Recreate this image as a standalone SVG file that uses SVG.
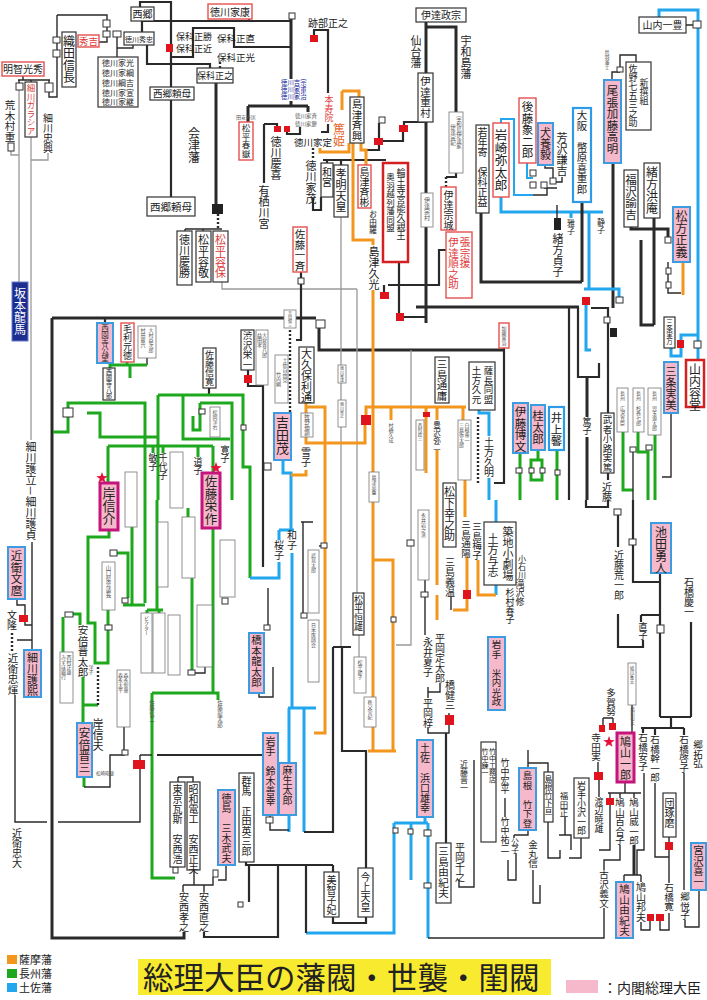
<svg xmlns="http://www.w3.org/2000/svg" width="707" height="1000" viewBox="0 0 707 1000">
<style>
text{font-family:"Noto Sans CJK JP","Noto Sans CJK SC",sans-serif;fill:#222}
.v{writing-mode:vertical-rl}
.h{text-anchor:middle}
.t{fill:#555}
.red{fill:#e03a3a}
.bx{fill:#fff;stroke:#333;stroke-width:1.2}
.rb{fill:#fff;stroke:#e65050;stroke-width:1.4}
.pk{fill:#f6b8cb;stroke:#3d9be0;stroke-width:2}
.pm{fill:#f6b8cb;stroke:#c4157a;stroke-width:3}
.bb{fill:#fff;stroke:#2e9be8;stroke-width:2.2}
.tb{fill:#fff;stroke:#777;stroke-width:0.8}
.k{fill:none;stroke:#2a2a2a;stroke-width:3}
.k2{fill:none;stroke:#2a2a2a;stroke-width:2.2}
.kt{fill:none;stroke:#2a2a2a;stroke-width:1.4}
.gy{fill:none;stroke:#9a9a9a;stroke-width:1.3}
.o{fill:none;stroke:#f2961e;stroke-width:3}
.g{fill:none;stroke:#1ea81e;stroke-width:3}
.b{fill:none;stroke:#22a6ee;stroke-width:3}
.dt{fill:none;stroke:#2a2a2a;stroke-width:2.4;stroke-dasharray:2 2}
.rs{fill:#e0141c}
.ws{fill:#fff;stroke:#333;stroke-width:1}
.bs{fill:#222}
.st{fill:#e8103a}
.wb{fill:#fff}
</style>
<defs>
<path id="star" d="M0,-6 L1.41,-1.94 L5.71,-1.85 L2.28,0.74 L3.53,4.85 L0,2.4 L-3.53,4.85 L-2.28,0.74 L-5.71,-1.85 L-1.41,-1.94Z"/>
</defs>
<rect width="707" height="1000" fill="#fff"/>

<g id="connectors">
<path class="kt" d="M57,15 H107 V20 M57,15 V97 H49 V92 M18,80 H50 M23,76 V80 M19,80 V83 M31,80 V82 M49,80 V83"/>
<path class="gy" d="M19,90 V282 M31,137 V440 M11,151 V155 H19 M48,153 V160 H31"/>
<path class="kt" d="M99,42 H107 V37 M107,27 V31 M117,37 V57 M133,45 V48 H117"/>
<path class="k2" d="M140,7 V2 H171 V87 M171,100 V197 M142,21 H291 M142,21 V32 M171,57 H193 V28 H234 V47 H291 M147,45 V64 H210 V68 M249,19 V21"/>
<path class="dt" d="M220,62 V68"/>
<path class="k" d="M291,18 V79 M291,101 V106 M248,106 H308 M248,106 V122 M308,106 V112 M216,83 V204"/>
<path class="dt" d="M218,214 V229"/>
<path class="kt" d="M185,229 H222 M185,229 V231 M203,229 V231"/>
<path class="k2" d="M264,124 H277 V126 M264,124 V183 M287,132 V134 H300 V127 M313,30 H328 V93 M328,124 V132 H321 M314,30 V35"/>
<path class="dt" d="M313,148 V160"/>
<path class="k2" d="M313,198 V210 H321 V197 M323,160 H386 M327,160 V163 M341,160 V165 M364,150 H379 V145 M379,138 V123 M383,141 H403 V132 M404,125 V122 H426"/>
<path class="o" d="M342,91 H359 V97 M342,91 V110 M349,143 V152 H320 V148 M353,143 V240 H373 V245 M361,143 V150 H366 V165"/>
<path class="k" d="M426,22 V73 M426,27 H456 V112 M426,122 V193 M426,227 V323"/>
<path class="k2" d="M456,173 V177 H446"/>
<path class="dt" d="M446,177 V187"/>
<path class="k2" d="M399,262 V313 M404,317 H426 M388,285 H439 V250 H448 V242 M384,285 V292"/>
<path class="kt" d="M686,25 H693 M612,80 V72 H620 M620,67 V55 H636 V62"/>
<path class="b" d="M659,17 V10 H698 V21 M698,28 V341 M698,348 V360"/>
<path class="k" d="M613,163 V308"/>
<path class="b" d="M501,197 V212 H603 M571,212 V218 M589,212 V289 M584,289 H619 V297 M586,305 V350 H591"/>
<path class="k" d="M582,202 V282 M481,213 V282 H582"/>
<path class="kt" d="M557,205 V218 M545,165 V168 H553 V178 M544,188 H557 M562,177 V182 H553 M547,188 V195 H533"/>
<path class="b" style="stroke-width:2" d="M501,123 V119 H514 V195 H533 M527,163 V178 H533"/>
<path class="k" d="M631,227 V229 H668 V237 M654,218 V325 M641,240 V325 H654"/>
<path class="o" d="M683,262 V295"/>
<path class="kt" d="M668,262 V293 H681"/>
<path class="b" d="M671,348 V356 H681 V335 H697"/>
<path class="kt" d="M671,413 V477 H662"/>
<path class="k" d="M52,318 H316 M319,328 V350 H504 M52,318 V938 H184 V932 M416,307 H579"/>
<path class="k2" d="M504,348 V483 H494 M578,307 V377 H599 V363 M569,307 V500 M591,308 H608 V413 M608,473 V480"/>
<path class="k" d="M587,377 V500"/>
<path class="gy" d="M222,282 V289 H357 M341,217 V647 M357,289 V593 M359,635 V657 M411,350 V645 H396"/>
<path class="k2" d="M248,370 V375 M248,383 V386 H263 V567 M301,272 V278 M301,284 V340 H296"/>
<path class="dt" d="M290,330 V413"/>
<path class="b" d="M479,410 V413 H489 V500 M496,500 V522 M496,585 V595"/>
<path class="dt" d="M478,417 V483"/>
<path class="g" d="M520,453 V500 M538,450 V460 H531 V468 M538,460 H542 V468 M531,473 V480 H542 V473 M557,450 V470 M557,475 V500 M623,432 V490 H633 M638,432 V452 H648 V500 M655,435 V500"/>
<path class="kt" d="M633,452 V500"/>
<path class="k2" d="M105,318 V323 M209,388 V395"/>
<path class="kt" d="M147,358 V365"/>
<path class="g" d="M110,368 V365 H147 M127,362 V365 M130,365 V378 M53,432 H68 V403 H145 V603 M158,395 H243 V467 H250 V578 M158,395 V500 M183,395 V439 H230 M200,403 H232 V500 M200,403 V430 H193 V416 M87,413 H100 V437 H157 M108,446 H213 M108,446 V483 M153,446 V453 M163,446 V453 M198,446 V457 M213,446 V473"/>
<path class="g" d="M132,500 V605 M123,605 H145 M157,500 V610 M147,610 H163 M147,610 V613 M159,610 V613 M188,508 V517 M192,578 V672 M213,528 V693 M152,693 H218 V700 M152,693 V878 H175"/>
<path class="kt" d="M195,673 H205 V667"/>
<path class="g" d="M109,530 V537 H88 V623 H95 V663 H108 V630 M108,610 V625 M117,553 H128 V598 M63,617 V652 M69,614 H80 V625 M83,677 V723 M83,705 H98 M84,777 V787"/>
<path class="dt" d="M98,667 V707"/>
<path class="kt" d="M84,787 H110 V755 H124 V727 M140,755 V760 M140,769 V822 H58 M140,755 H152"/>
<path class="k2" d="M157,755 H263"/>
<path class="kt" d="M17,599 V605 H25 V615 M25,622 V625 H32 M32,542 V650 M17,640 H32 M15,695 V822 H47"/>
<path class="dt" d="M12,633 V652"/>
<path class="b" d="M283,460 V473 H291 V530 M279,530 H294 M279,530 V540 M279,562 V578 H250 M292,553 V708 M288,708 H316 M289,708 V763 M289,815 V832 M304,708 V832"/>
<path class="o" d="M306,403 V413 M306,437 V443 H365 V425 M366,415 V407 H466 M306,407 H325 V733 H314 M391,407 V420 M426,407 V412 M426,417 V473 M437,407 V420 M437,450 V585 M437,595 V620 M463,407 V420 M465,480 V517 M306,470 V475 H291 M373,290 V751 M374,560 H393 V751 M368,751 H396 M467,557 V590 M467,599 V610 H453 M478,560 V595 H496"/>
<path class="kt" d="M301,522 H313 M303,522 V613 M319,546 H321 M270,815 V817 M270,823 V830 H289 M268,588 V625 M259,693 V697 H273 V667 M425,580 V592 M425,597 V635 M428,687 V692 H440 V683 M428,692 V698 M449,713 V715 M428,727 V733 H449 V725 M451,597 V610"/>
<path class="k2" d="M333,647 H351 M333,647 V832 H304 M342,647 V751 H366 V868 M446,733 V843 M586,500 V507 H608 V500"/>
<path class="kt" d="M459,880 V887 H474 V760"/>
<path class="b" d="M425,817 V823 M394,823 H428 M394,823 V828 M394,833 V933 H306 M411,823 V829 M411,834 V880 M428,823 V830 M428,836 V883 M428,888 V938"/>
<path class="k2" d="M246,862 V865 H333 M249,865 V902 M278,865 V937 H204 V932 M306,865 V933 M333,865 V872 M333,917 V923 H366 V917"/>
<path class="kt" d="M178,777 H193 V782 M178,777 V782 M194,870 V885 M183,885 H213 V877 M183,885 V892 M204,885 V892 M226,865 V880 H218"/>
<path class="kt" d="M528,750 V768 M528,763 H548 V772 M505,798 V817 M548,822 V858 H560 V850 M559,835 H571 V850 M565,817 V835 M581,838 V858 H569 M514,835 H528 V830 M514,835 V838 M516,853 V880 H508 V860 M533,870 V903 H540 V885"/>
<path class="k2" d="M618,515 V547 M618,614 V647 H643 V640 M633,500 V582 H660 M660,573 V717 M641,615 H659 M641,615 V622 M691,622 V717 M660,717 H691 M671,717 V728 M641,728 H684 M643,728 V733 M655,728 V735 M684,728 V735"/>
<path class="kt" d="M603,718 H613 M603,718 V725 M613,718 V723 M598,762 V772 M599,780 V797 M632,705 V733 M625,782 V793 M608,793 H641 M610,793 V798 M610,805 V850 H599 M620,793 V798 M634,793 V798 M620,845 V860 H604 V870 M604,908 V938 H428 M624,875 H641 M624,875 V882 M641,875 V882 M644,773 V850 H637 V875 M641,922 V930 H650 V921 M660,921 V930 H669 V913 M669,837 V842 M669,850 V883 M655,783 V857 H669 M684,773 V890 M685,920 V927 H699 V890"/>
<path class="k" d="M634,845 V875"/>
</g>

<g id="squares">
<rect class="ws" x="103" y="20" width="7" height="7"/>
<rect class="ws" x="53" y="37" width="7" height="6"/>
<rect class="ws" x="53" y="50" width="7" height="7"/>
<rect class="ws" x="16" y="83" width="7" height="7"/>
<rect class="ws" x="45" y="83" width="8" height="9"/>
<rect class="ws" x="8" y="143" width="6" height="8"/>
<rect class="ws" x="103" y="31" width="7" height="6"/>
<rect class="ws" x="113" y="31" width="8" height="6"/>
<rect class="rs" x="166" y="44" width="7" height="8"/>
<rect class="ws" x="289" y="13" width="6" height="6"/>
<rect class="bs" x="212" y="204" width="11" height="10"/>
<rect class="rs" x="274" y="126" width="7" height="6"/>
<rect class="rs" x="284" y="126" width="6" height="6"/>
<rect class="rs" x="310" y="35" width="8" height="7"/>
<rect class="rs" x="374" y="138" width="9" height="7"/>
<rect class="ws" x="379" y="117" width="6" height="6"/>
<rect class="rs" x="399" y="125" width="9" height="7"/>
<rect class="bs" x="458" y="233" width="8" height="9"/>
<rect class="rs" x="396" y="313" width="8" height="8"/>
<rect class="rs" x="380" y="292" width="9" height="7"/>
<rect class="ws" x="693" y="21" width="8" height="7"/>
<rect class="ws" x="617" y="67" width="6" height="5"/>
<rect class="ws" x="530" y="170" width="6" height="6"/>
<rect class="ws" x="530" y="182" width="6" height="6"/>
<rect class="ws" x="541" y="182" width="6" height="6"/>
<rect class="ws" x="550" y="178" width="6" height="6"/>
<rect class="bs" x="554" y="218" width="7" height="12"/>
<rect class="ws" x="665" y="237" width="6" height="6"/>
<rect class="ws" x="666" y="268" width="5" height="6"/>
<rect class="ws" x="666" y="282" width="5" height="6"/>
<rect class="ws" x="616" y="297" width="7" height="6"/>
<rect class="rs" x="582" y="297" width="8" height="8"/>
<rect class="ws" x="604" y="317" width="6" height="6"/>
<rect class="bs" x="610" y="328" width="7" height="9"/>
<rect class="rs" x="677" y="340" width="7" height="8"/>
<rect class="ws" x="694" y="341" width="7" height="7"/>
<rect class="ws" x="316" y="320" width="9" height="8"/>
<rect class="ws" x="298" y="278" width="6" height="6"/>
<rect class="rs" x="244" y="375" width="8" height="8"/>
<rect class="rs" x="361" y="415" width="10" height="10"/>
<rect class="rs" x="423" y="412" width="7" height="5"/>
<rect class="ws" x="63" y="408" width="10" height="9"/>
<rect class="ws" x="199" y="409" width="6" height="5"/>
<rect class="ws" x="241" y="425" width="5" height="5"/>
<rect class="ws" x="264" y="463" width="7" height="7"/>
<rect class="ws" x="516" y="468" width="6" height="5"/>
<rect class="ws" x="529" y="468" width="5" height="5"/>
<rect class="ws" x="540" y="468" width="5" height="5"/>
<rect class="ws" x="555" y="470" width="5" height="5"/>
<rect class="ws" x="630" y="447" width="6" height="5"/>
<rect class="ws" x="646" y="445" width="6" height="5"/>
<rect class="ws" x="110" y="550" width="7" height="6"/>
<rect class="ws" x="105" y="625" width="7" height="5"/>
<rect class="ws" x="122" y="598" width="6" height="5"/>
<rect class="ws" x="65" y="612" width="8" height="5"/>
<rect class="ws" x="188" y="670" width="7" height="5"/>
<rect class="ws" x="222" y="598" width="6" height="6"/>
<rect class="rs" x="19" y="615" width="9" height="7"/>
<rect class="ws" x="122" y="750" width="6" height="5"/>
<rect class="rs" x="133" y="760" width="12" height="9"/>
<rect class="ws" x="173" y="867" width="5" height="6"/>
<rect class="ws" x="213" y="870" width="5" height="7"/>
<rect class="ws" x="321" y="543" width="6" height="5"/>
<rect class="ws" x="301" y="613" width="6" height="5"/>
<rect class="ws" x="264" y="625" width="6" height="5"/>
<rect class="ws" x="391" y="617" width="5" height="5"/>
<rect class="ws" x="407" y="540" width="7" height="6"/>
<rect class="ws" x="421" y="592" width="7" height="5"/>
<rect class="rs" x="463" y="590" width="8" height="9"/>
<rect class="rs" x="445" y="715" width="9" height="10"/>
<rect class="ws" x="266" y="817" width="7" height="6"/>
<rect class="ws" x="393" y="828" width="5" height="5"/>
<rect class="ws" x="408" y="829" width="5" height="5"/>
<rect class="ws" x="424" y="830" width="7" height="6"/>
<rect class="ws" x="424" y="883" width="7" height="5"/>
<rect class="ws" x="238" y="902" width="5" height="5"/>
<rect class="ws" x="614" y="509" width="7" height="6"/>
<rect class="ws" x="629" y="539" width="7" height="6"/>
<rect class="ws" x="657" y="625" width="7" height="8"/>
<rect class="rs" x="599" y="725" width="6" height="7"/>
<rect class="rs" x="609" y="723" width="7" height="7"/>
<rect class="rs" x="594" y="772" width="9" height="8"/>
<rect class="rs" x="606" y="798" width="8" height="7"/>
<rect class="rs" x="647" y="914" width="7" height="7"/>
<rect class="rs" x="656" y="914" width="8" height="7"/>
<rect class="rs" x="665" y="842" width="8" height="8"/>
<use href="#star" class="st" transform="translate(102,478)"/>
<use href="#star" class="st" transform="translate(216,468)"/>
<use href="#star" class="st" transform="translate(609,742)"/>
</g>

<g id="n-saigo"><rect class="bx" x="131" y="7" width="23" height="14"/><text class="h" x="142.5" y="18" font-size="10">西郷</text></g>
<g id="n-ieyasu"><rect class="rb" x="208" y="4" width="44" height="15"/><text class="h" x="230" y="15.5" font-size="10">徳川家康</text></g>
<g id="n-akechi"><rect class="rb" x="2" y="62" width="42" height="14"/><text class="h" x="23" y="73" font-size="10">明智光秀</text></g>
<g id="n-nobunaga"><rect class="bx" x="62" y="32" width="14" height="55"/><text class="v" x="69" y="35" font-size="12">織田信長</text></g>
<g id="n-hideyoshi"><rect class="rb" x="78" y="35" width="21" height="12"/><text class="h red" x="88.5" y="45" font-size="9.5">秀吉</text></g>
<g id="n-hidetada"><rect class="bx" x="124" y="32" width="30" height="13"/><text class="h" x="139" y="41.5" font-size="7">徳川秀忠</text></g>
<g id="n-iemitsu"><rect class="bx" x="98" y="57" width="40" height="50"/>
<text class="h" x="118" y="66" font-size="8">徳川家光</text><text class="h" x="118" y="76" font-size="8">徳川家綱</text><text class="h" x="118" y="86" font-size="8">徳川綱吉</text><text class="h" x="118" y="96" font-size="8">徳川家宣</text><text class="h" x="118" y="105" font-size="8">徳川家継</text></g>
<g id="n-hoshina"><text x="176" y="40" font-size="9">保科正勝</text><text x="176" y="52" font-size="9">保科正近</text><text x="217" y="42" font-size="9.5">保科正直</text><text x="217" y="61" font-size="9.5">保科正光</text></g>
<g id="n-masayuki"><rect class="bx" x="197" y="68" width="36" height="15"/><text class="h" x="215" y="79" font-size="9">保科正之</text></g>
<g id="n-saigo2"><rect class="bx" x="150" y="87" width="44" height="13"/><text class="h" x="172" y="97" font-size="9.5">西郷頼母</text></g>
<g id="n-aizu"><text class="v" x="194" y="127" font-size="12">会津藩</text></g>
<g id="n-saigo3"><rect class="bx" x="147" y="197" width="48" height="19"/><text class="h" x="171" y="210.5" font-size="10.5">西郷頼母</text></g>
<g id="n-araki"><text class="v" x="10" y="100" font-size="10.5">荒木村重</text></g>
<g id="n-gracia"><rect class="bx" x="25" y="82" width="12" height="55"/><text class="v red" x="31" y="84" font-size="8.5">細川ガラシア</text></g>
<g id="n-tadaoki"><text class="v" x="48" y="113" font-size="10">細川忠興</text></g>
<g id="n-ryoma"><rect x="12" y="282" width="16" height="59" fill="#1c2f8f" stroke="#6a7ad0" stroke-width="1"/><text class="v" x="20" y="287" font-size="12" style="fill:#fff">坂本龍馬</text></g>
<g id="n-moritatsu"><rect class="wb" x="25" y="440" width="12" height="102"/><text class="v" x="31" y="441" font-size="11">細川護立－細川護貞</text></g>
<g id="n-fumimaro"><rect class="pk" x="8" y="547" width="17" height="52"/><text class="v" x="16.5" y="550" font-size="11.5">近衛文麿</text></g>
<g id="n-fumitaka"><text class="v" x="12" y="610" font-size="10">文隆</text></g>
<g id="n-tadateru"><text class="v" x="13" y="653" font-size="10.5">近衛忠煇</text></g>
<g id="n-morihiro"><rect class="pk" x="24" y="650" width="17" height="47"/><text class="v" x="32.5" y="652" font-size="11">細川護熙</text></g>
<g id="n-tadahiro"><text class="v" x="17" y="828" font-size="10">近衛忠大</text></g>

<g id="n-yoshimune"><text x="281" y="85" font-size="6.4" style="fill:#1a2a9a">徳川吉宗</text><text x="281" y="92" font-size="6.4" style="fill:#1a2a9a">徳川家重</text><text x="281" y="99" font-size="6.4" style="fill:#1a2a9a">徳川家治</text></g>
<g id="n-tayasu"><text x="236" y="119" font-size="5" class="t">田安斉匡</text><text x="295" y="118" font-size="5.5" class="t">徳川家斉</text><text x="295" y="126" font-size="5.5" class="t">徳川家慶</text></g>
<g id="n-shungaku"><rect class="rb" x="239" y="122" width="14" height="38"/><text class="v" x="246" y="124" font-size="8.5">松平春嶽</text></g>
<g id="n-yoshinobu"><text class="v" x="276" y="136" font-size="11">徳川慶喜</text></g>
<g id="n-arisugawa"><text class="v" x="264" y="185" font-size="11">有栖川宮</text></g>
<g id="n-atobe"><text x="308" y="27" font-size="10">跡部正之</text></g>
<g id="n-honjuin"><text class="v red" x="329" y="95" font-size="9">本寿院</text></g>
<g id="n-atsuhime"><text class="v" x="339" y="123" font-size="12" style="fill:#e8652a">篤姫</text></g>
<g id="n-iesada"><text x="294" y="146" font-size="9.5">徳川家定</text></g>
<g id="n-iemochi"><text class="v" x="311" y="160" font-size="11">徳川家茂</text></g>
<g id="n-kazunomiya"><rect class="bx" x="321" y="163" width="12" height="34"/><text class="v" x="327" y="167" font-size="10">和宮</text></g>
<g id="n-komei"><rect class="bx" x="334" y="165" width="14" height="52"/><text class="v" x="341" y="168" font-size="11">孝明天皇</text></g>
<g id="n-narioki"><rect class="bx" x="350" y="97" width="14" height="46"/><text class="v" x="357" y="99" font-size="10.5">島津斉興</text></g>
<g id="n-nariakira"><rect class="rb" x="358" y="165" width="13" height="43"/><text class="v" x="364.5" y="167" font-size="10">島津斉彬</text></g>
<g id="n-oyura"><text class="v" x="373" y="210" font-size="8">お由羅</text></g>
<g id="n-hisamitsu"><text class="v" x="374" y="246" font-size="11">島津久光</text></g>
<g id="n-rinnoji"><rect x="383" y="163" width="25" height="99" fill="#fff" stroke="#d42020" stroke-width="2.5"/><text class="v" x="401" y="168" font-size="9">輪王寺宮能久親王</text><text class="v" x="390.5" y="173" font-size="8.5">奥羽越列藩同盟</text></g>
<g id="n-masamune"><rect class="bx" x="416" y="8" width="50" height="14"/><text class="h" x="441" y="19" font-size="10">伊達政宗</text></g>
<g id="n-sendai"><text class="v" x="416" y="35" font-size="11">仙台藩</text></g>
<g id="n-uwajima"><text class="v" x="466" y="35" font-size="11">宇和島藩</text></g>
<g id="n-shigemura"><rect class="bx" x="418" y="73" width="15" height="49"/><text class="v" x="425.5" y="76" font-size="10.5">伊達重村</text></g>
<g id="n-munemura"><rect class="tb" x="421" y="193" width="12" height="34"/><text class="v t" x="427" y="197" font-size="6">伊達宗村</text></g>
<g id="n-uwadate"><rect class="tb" x="449" y="112" width="14" height="61"/><text class="v t" x="459" y="116" font-size="5.5">宇和島伊達家</text><text class="v t" x="453" y="124" font-size="5.5">伊達宗紀</text></g>
<g id="n-munenari"><rect class="rb" x="441" y="187" width="15" height="43"/><text class="v" x="448.5" y="190" font-size="10">伊達宗城</text></g>
<g id="n-junnosuke"><rect class="rb" x="446" y="232" width="26" height="66"/><text class="v red" x="465" y="237" font-size="10.5">張宗援</text><text class="v red" x="453.5" y="237" font-size="10.5">伊達順之助</text></g>
<g id="n-keisho"><rect class="bx" x="177" y="231" width="15" height="54"/><text class="v" x="184.5" y="234" font-size="11">徳川慶勝</text></g>
<g id="n-katataka"><rect class="bx" x="196" y="231" width="15" height="51"/><text class="v" x="203.5" y="234" font-size="11">松平容敬</text></g>
<g id="n-katamori"><rect class="bx" x="213" y="231" width="15" height="51"/><text class="v red" x="220.5" y="234" font-size="11">松平容保</text></g>

<g id="n-kazutoyo"><rect class="bx" x="639" y="17" width="47" height="16"/><text class="h" x="662.5" y="29" font-size="10">山内一豊</text></g>
<g id="n-kato"><rect class="pk" x="604" y="80" width="17" height="83"/><text class="v" x="612.5" y="85" font-size="11.5">尾張加藤高明</text></g>
<g id="n-toba"><text class="v t" x="607" y="50" font-size="5">鳥羽藩士</text></g>
<g id="n-shinsen"><rect class="bx" x="626" y="62" width="25" height="68"/><text class="v" x="644" y="78" font-size="9">新撰組</text><text class="v" x="633" y="64" font-size="9">佐野七五三之助</text></g>
<g id="n-goto"><rect class="rb" x="519" y="98" width="17" height="65"/><text class="v" x="527.5" y="101" font-size="11.5">後藤象二郎</text></g>
<g id="n-inukai"><rect class="pk" x="538" y="123" width="15" height="42"/><text class="v" x="545.5" y="127" font-size="11">犬養毅</text></g>
<g id="n-yoshizawa"><text class="v" x="562" y="132" font-size="11">芳沢謙吉</text></g>
<g id="n-iwasaki"><rect class="rb" x="493" y="123" width="16" height="74"/><text class="v" x="501" y="129" font-size="12.5">岩崎弥太郎</text></g>
<g id="n-masaaki"><rect class="bx" x="476" y="125" width="13" height="88"/><text class="v" x="482.5" y="127" font-size="10">若年寄　保科正益</text></g>
<g id="n-shidehara"><rect class="bb" x="573" y="108" width="18" height="94"/><text class="v" x="582" y="110" font-size="10.5">大阪　幣原喜重郎</text></g>
<g id="n-fukuzawa"><rect class="bx" x="624" y="170" width="14" height="57"/><text class="v" x="631" y="174" font-size="11.5">福沢諭吉</text></g>
<g id="n-koan"><rect class="bx" x="644" y="163" width="16" height="55"/><text class="v" x="652" y="166" font-size="12">緒方洪庵</text></g>
<g id="n-matsukata"><rect class="pk" x="673" y="207" width="17" height="55"/><text class="v" x="681.5" y="210" font-size="12">松方正義</text></g>
<g id="n-masako"><text class="v" x="571" y="219" font-size="8">雅子</text><text class="v" x="601" y="218" font-size="8">静子</text></g>
<g id="n-sadako"><text class="v" x="558" y="233" font-size="11">緒方貞子</text></g>

<g id="n-sanetsumu"><rect class="bx" x="664" y="317" width="11" height="31"/><text class="v" x="669.5" y="319" font-size="6.5">三条実万</text></g>
<g id="n-sanetomi"><rect class="pk" x="664" y="362" width="14" height="51"/><text class="v" x="671" y="366" font-size="11">三条実美</text></g>
<g id="n-yodo"><rect x="686" y="360" width="18" height="47" fill="#fff" stroke="#d42020" stroke-width="2.5"/><text class="v" x="695" y="363" font-size="12">山内容堂</text></g>
<g id="n-mushanokoji"><rect class="bx" x="601" y="413" width="13" height="60"/><text class="v" x="607.5" y="415" font-size="9.5">武者小路実篤</text></g>
<g id="n-kondo1"><text class="v" x="607" y="482" font-size="10">近藤</text></g>
<g id="n-atsuko"><rect class="wb" x="583" y="417" width="8" height="20"/><text class="v" x="587" y="417" font-size="9">篤子</text></g>
<g id="n-choshu3"><rect class="tb" x="617" y="388" width="11" height="44"/><text class="v t" x="622.5" y="391" font-size="5">長州　広沢真臣</text>
<rect class="tb" x="633" y="388" width="11" height="44"/><text class="v t" x="638.5" y="391" font-size="5">長州　杉孫七郎</text>
<rect class="tb" x="648" y="388" width="13" height="47"/><text class="v t" x="654.5" y="391" font-size="5">長州　児玉源太郎</text></g>
<g id="n-kanji"><rect class="rb" x="499" y="323" width="10" height="25"/><text class="v t" x="504" y="326" font-size="5">加藤寛治</text></g>
<g id="n-hijikata"><rect class="bx" x="469" y="362" width="26" height="48"/><text class="v" x="488.5" y="366" font-size="9.5">薩長同盟</text><text class="v" x="476.5" y="366" font-size="9.5">土方久元</text></g>
<g id="n-hisaaki"><rect class="wb" x="484" y="436" width="10" height="42"/><text class="v" x="489" y="437" font-size="10">土方久明</text></g>
<g id="n-ito"><rect class="pk" x="513" y="403" width="15" height="50"/><text class="v" x="520.5" y="406" font-size="11.5">伊藤博文</text></g>
<g id="n-katsura"><rect class="pk" x="531" y="405" width="14" height="45"/><text class="v" x="538" y="410" font-size="11.5">桂太郎</text></g>
<g id="n-inoue"><rect class="bb" x="549" y="407" width="15" height="43"/><text class="v" x="556.5" y="412" font-size="11.5">井上馨</text></g>

<g id="n-saionji"><rect class="pk" x="97" y="323" width="16" height="40"/><text class="v" x="105" y="324" font-size="7.5">西園寺公望</text></g>
<g id="n-mori"><rect class="rb" x="121" y="323" width="13" height="39"/><text class="v" x="127.5" y="324" font-size="9">毛利元徳</text></g>
<g id="n-omura"><rect class="tb" x="138" y="326" width="18" height="32"/><text class="v t" x="151" y="328" font-size="5">大村益次郎</text><text class="v t" x="143" y="328" font-size="5">村田蔵六</text></g>
<g id="n-hachiro"><rect class="bx" x="103" y="368" width="12" height="32"/><text class="v" x="109" y="369" font-size="6">西園寺八郎</text></g>
<g id="n-nobuhiro"><rect class="bx" x="203" y="348" width="13" height="40"/><text class="v" x="209.5" y="350" font-size="9">佐藤信寛</text></g>
<g id="n-matsuoka"><rect class="tb" x="210" y="407" width="10" height="30"/><text class="v t" x="215" y="410" font-size="5">松岡洋右</text></g>
<g id="n-hiroko"><text class="v" x="225" y="445" font-size="9">寛子</text></g>
<g id="n-toshiko"><text class="v" x="153" y="453" font-size="9">敏子</text></g>
<g id="n-chiyoko"><text class="v" x="163" y="453" font-size="9">千代子</text></g>
<g id="n-michiko"><text class="v" x="198" y="457" font-size="9">道子</text></g>
<g id="n-kishi"><rect class="pm" x="100" y="483" width="18" height="47"/><text class="v" x="109" y="487" font-size="13">岸信介</text></g>
<g id="n-eisaku"><rect class="pm" x="202" y="473" width="18" height="55"/><text class="v" x="211" y="475" font-size="12.5">佐藤栄作</text></g>
<g id="n-tb1"><rect class="tb" x="125" y="472" width="12" height="55"/><rect class="tb" x="170" y="452" width="13" height="56"/></g>
<g id="n-yamaguchi"><rect class="tb" x="102" y="562" width="13" height="48"/><text class="v t" x="108.5" y="565" font-size="5.5">山口県会議長</text></g>
<g id="n-tb2"><rect class="tb" x="141" y="613" width="11" height="60"/><text class="v t" x="146.5" y="616" font-size="5">ビクター</text>
<rect class="tb" x="153" y="613" width="12" height="60"/><rect class="tb" x="158" y="522" width="10" height="65"/><rect class="tb" x="168" y="615" width="12" height="60"/><rect class="tb" x="182" y="517" width="13" height="61"/><rect class="tb" x="197" y="605" width="15" height="62"/><rect class="tb" x="220" y="540" width="15" height="57"/></g>
<g id="n-nobuji"><text class="v t" x="152" y="700" font-size="5.5">佐藤信二</text><text class="v t" x="220" y="700" font-size="5.5">佐藤龍太郎</text></g>
<g id="n-shintaro"><text class="v" x="83" y="625" font-size="10.5">安倍晋太郎</text></g>
<g id="n-nishimura"><rect class="tb" x="60" y="652" width="13" height="51"/><text class="v t" x="69" y="655" font-size="5">西村正雄</text><text class="v t" x="63.5" y="655" font-size="5">みずほ銀行</text></g>
<g id="n-yoko"><text class="v t" x="91" y="665" font-size="5">洋子</text></g>
<g id="n-nobuo"><text class="v" x="98" y="718" font-size="11">岸信夫</text></g>
<g id="n-abe"><rect class="pk" x="77" y="723" width="15" height="54"/><text class="v" x="84.5" y="727" font-size="11.5">安倍晋三</text></g>
<g id="n-matsuzaki"><text x="96" y="775" font-size="4.5" class="t">松崎昭雄</text></g>
<g id="n-morinaga"><rect class="tb" x="117" y="670" width="13" height="57"/><text class="v t" x="126" y="673" font-size="5">森永製菓</text><text class="v t" x="120.5" y="673" font-size="5">森永太平</text></g>
<g id="n-tokyogas"><rect class="bx" x="170" y="782" width="15" height="85"/><text class="v" x="177.5" y="784" font-size="10">東京瓦斯　安西浩</text></g>
<g id="n-showa"><rect class="bx" x="187" y="782" width="13" height="88"/><text class="v" x="193.5" y="784" font-size="10">昭和電工　安西正夫</text></g>
<g id="n-miki"><rect class="pk" x="218" y="790" width="17" height="75"/><text class="v" x="226.5" y="793" font-size="10">徳島　三木武夫</text></g>
<g id="n-takayuki"><text class="v" x="184" y="892" font-size="10">安西孝之</text></g>
<g id="n-naoyuki"><text class="v" x="204" y="892" font-size="10">安西直之</text></g>

<g id="n-issai"><rect class="rb" x="293" y="227" width="14" height="45"/><text class="v" x="300" y="229" font-size="10.5">佐藤一斉</text></g>
<g id="n-kenzo"><rect class="tb" x="284" y="310" width="12" height="18"/><text class="v t" x="290" y="311" font-size="4">吉田健三</text></g>
<g id="n-takeuchi"><rect class="tb" x="275" y="355" width="13" height="48"/><text class="v t" x="285" y="358" font-size="5">土佐自由党</text><text class="v t" x="278.5" y="372" font-size="5">竹内綱</text></g>
<g id="n-yoshida"><rect class="pk" x="274" y="413" width="17" height="47"/><text class="v" x="282.5" y="416" font-size="13">吉田茂</text></g>
<g id="n-okubo"><rect class="bx" x="299" y="347" width="15" height="56"/><text class="v" x="306.5" y="348" font-size="11">大久保利通</text></g>
<g id="n-makino"><rect class="tb" x="301" y="413" width="12" height="24"/><text class="v t" x="307" y="414" font-size="5.5">牧野伸顕</text></g>
<g id="n-yukiko"><text class="v" x="306" y="447" font-size="10">雪子</text></g>
<g id="n-shibusawa"><rect class="bx" x="241" y="330" width="13" height="40"/><text class="v" x="247.5" y="331" font-size="9.5">渋沢栄一</text></g>
<g id="n-okura"><rect class="tb" x="256" y="330" width="12" height="55"/><text class="v t" x="264.5" y="333" font-size="5">大倉喜八郎</text><text class="v t" x="259.5" y="333" font-size="5">益田孝</text></g>
<g id="n-tokugawa"><rect class="tb" x="338" y="365" width="8" height="18"/><text class="v t" x="342" y="366" font-size="4">徳川家達</text><rect class="tb" x="338" y="400" width="8" height="27"/><text class="v t" x="342" y="402" font-size="4">徳川家正</text></g>
<g id="n-michitsune"><rect class="bx" x="435" y="357" width="14" height="46"/><text class="v" x="442" y="359" font-size="10.5">三島通庸</text></g>
<g id="n-murahashi"><text class="v t" x="391" y="423" font-size="5">村橋久成</text></g>
<g id="n-toyosawa"><text class="v" x="437" y="421" font-size="7.5">豊沢弥二</text></g>
<g id="n-yataro"><rect class="tb" x="458" y="420" width="13" height="60"/><text class="v t" x="467" y="423" font-size="5">白根専一</text><text class="v t" x="461.5" y="423" font-size="5">三島弥太郎</text></g>
<g id="n-nishimura2"><rect class="tb" x="416" y="420" width="8" height="50"/><text class="v t" x="420" y="423" font-size="4.5">西村捨三</text></g>
<g id="n-tadashige"><rect class="tb" x="369" y="472" width="10" height="30"/><text class="v t" x="374" y="475" font-size="5">島津忠重</text></g>

<g id="n-hashimoto"><rect class="pk" x="249" y="633" width="15" height="60"/><text class="v" x="256.5" y="635" font-size="10.5">橋本龍太郎</text></g>
<g id="n-sakurako"><text class="v" x="279" y="540" font-size="10">桜子</text></g>
<g id="n-kazuko"><text class="v" x="292" y="530" font-size="10">和子</text></g>
<g id="n-takemi"><rect class="tb" x="308" y="550" width="11" height="63"/><text class="v t" x="313.5" y="553" font-size="5">武見太郎</text><rect class="tb" x="308" y="620" width="11" height="62"/><text class="v t" x="313.5" y="623" font-size="5">日本医師会</text></g>
<g id="n-tsuneo"><rect class="bx" x="353" y="593" width="11" height="42"/><text class="v" x="358.5" y="595" font-size="9">松平恒雄</text></g>
<g id="n-setsuko"><rect class="tb" x="354" y="657" width="12" height="36"/><text class="v t" x="360" y="660" font-size="5">松平節子</text><rect class="tb" x="364" y="697" width="12" height="30"/><text class="v t" x="370" y="700" font-size="5">秩父宮妃</text></g>
<g id="n-nagai"><rect class="tb" x="418" y="510" width="11" height="70"/><text class="v t" x="423.5" y="513" font-size="5">永井岩之丞</text></g>
<g id="n-matsushita"><rect class="bx" x="443" y="483" width="13" height="64"/><text class="v" x="449.5" y="486" font-size="11">松下幸之助</text></g>
<g id="n-michiharu"><text class="v" x="466" y="520" font-size="9.5">三島通陽</text></g>
<g id="n-yoshiharu"><text class="v" x="450" y="557" font-size="10">三島義温</text></g>
<g id="n-umeko"><text class="v" x="477" y="522" font-size="9.5">三島梅子</text></g>
<g id="n-tsukiji"><rect class="bx" x="484" y="522" width="32" height="63"/><text class="v" x="508" y="526" font-size="11">築地小劇場</text><text class="v" x="493" y="533" font-size="11">土方与志</text></g>
<g id="n-koishikawa"><text class="v" x="522" y="555" font-size="8">小石川</text><text class="v" x="520" y="579" font-size="9">滝沢修</text><text class="v" x="510" y="588" font-size="9">杉村春子</text></g>
<g id="n-yonai"><rect class="pk" x="488" y="637" width="17" height="73"/><text class="v" x="496.5" y="640" font-size="9.5">岩手　米内光政</text></g>
<g id="n-natsuko"><text class="v" x="428" y="637" font-size="10">永井夏子</text></g>
<g id="n-sadataro"><text class="v" x="440" y="633" font-size="10">平岡定太郎</text></g>
<g id="n-azusa"><text class="v" x="428" y="698" font-size="10">平岡梓</text></g>
<g id="n-kenzo2"><text class="v" x="450" y="680" font-size="10">橋健三</text></g>

<g id="n-suzuki"><rect class="pk" x="263" y="733" width="15" height="82"/><text class="v" x="270.5" y="736" font-size="10">岩手　鈴木善幸</text></g>
<g id="n-aso"><rect class="pk" x="279" y="763" width="17" height="52"/><text class="v" x="287.5" y="765" font-size="10">麻生太郎</text></g>
<g id="n-shoda"><rect class="bx" x="239" y="773" width="15" height="89"/><text class="v" x="246.5" y="776" font-size="10">群馬　正田英三郎</text></g>
<g id="n-michikohi"><rect class="bx" x="324" y="872" width="15" height="45"/><text class="v" x="331.5" y="875" font-size="10">美智子妃</text></g>
<g id="n-kinjo"><rect class="bx" x="358" y="868" width="15" height="49"/><text class="v" x="365.5" y="872" font-size="10">今上天皇</text></g>
<g id="n-hamaguchi"><rect class="pk" x="417" y="740" width="16" height="77"/><text class="v" x="425" y="743" font-size="10">土佐　浜口雄幸</text></g>
<g id="n-mishima"><rect class="bx" x="436" y="843" width="15" height="60"/><text class="v" x="443.5" y="846" font-size="10.5">三島由紀夫</text></g>
<g id="n-chiyuki"><text class="v" x="460" y="842" font-size="10">平岡千之</text></g>
<g id="n-shinichi"><text class="v" x="464" y="760" font-size="8">近藤晋一</text></g>
<g id="n-takenaka"><rect class="bx" x="481" y="742" width="15" height="100"/><text class="v" x="485" y="748" font-size="7">竹中錬一</text><text class="v" x="492.5" y="748" font-size="7">竹中工務店</text></g>
<g id="n-kohei"><text class="v" x="505" y="758" font-size="9">竹中宏平</text><text class="v" x="505" y="817" font-size="9">竹中祐二</text></g>
<g id="n-takeshita"><rect class="pk" x="519" y="768" width="17" height="62"/><text class="v" x="527.5" y="771" font-size="9.5">島根　竹下登</text></g>
<g id="n-wataru"><rect class="bx" x="544" y="772" width="9" height="50"/><text class="v" x="548.5" y="775" font-size="8">島根竹下亘</text></g>
<g id="n-fukuda"><text class="v" x="564" y="792" font-size="8.5">福田正</text></g>
<g id="n-ozawa"><rect class="bx" x="574" y="778" width="15" height="60"/><text class="v" x="581.5" y="781" font-size="9">岩手小沢一郎</text></g>
<g id="n-kanemaru"><text class="v" x="515" y="838" font-size="8">公子</text><text class="v" x="533" y="840" font-size="9.5">金丸信</text></g>

<g id="n-ikeda"><rect class="pk" x="651" y="523" width="20" height="50"/><text class="v" x="661" y="526" font-size="12">池田勇人</text></g>
<g id="n-araichiro"><text class="v" x="619" y="550" font-size="10">近藤荒一郎</text></g>
<g id="n-keiichi"><text class="v" x="689" y="577" font-size="10">石橋慶一</text></g>
<g id="n-naoko"><text class="v" x="643" y="622" font-size="9">直子</text></g>
<g id="n-taga"><text class="v" x="611" y="688" font-size="9.5">多賀努</text></g>
<g id="n-terada"><text class="v" x="596" y="733" font-size="9.5">寺田実</text></g>
<g id="n-kazuo"><rect class="tb" x="628" y="663" width="8" height="42"/><text class="v t" x="632" y="666" font-size="4.5">鳩山秀夫</text><text class="v t" x="632.5" y="707" font-size="4.5">鳩山和夫</text></g>
<g id="n-ichiro"><rect class="pm" x="617" y="733" width="17" height="49"/><text class="v" x="625.5" y="736" font-size="11">鳩山一郎</text></g>
<g id="n-yasuko"><text class="v" x="643" y="733" font-size="9.5">石橋安子</text></g>
<g id="n-kanichiro"><text class="v" x="655" y="735" font-size="9.5">石橋幹一郎</text></g>
<g id="n-keiko"><text class="v" x="684" y="735" font-size="9.5">石橋啓子</text></g>
<g id="n-go"><text class="v" x="698" y="740" font-size="9.5">郷拓弘</text></g>
<g id="n-watanabe"><text class="v" x="599" y="797" font-size="9">渡辺暁雄</text></g>
<g id="n-yuriko"><text class="v" x="620" y="798" font-size="9.5">鳩山百合子</text></g>
<g id="n-iichiro"><text class="v" x="634" y="798" font-size="9.5">鳩山威一郎</text></g>
<g id="n-furusawa"><text class="v" x="604" y="870" font-size="9.5">古沢義文</text></g>
<g id="n-yukio"><rect class="pk" x="616" y="882" width="17" height="56"/><text class="v" x="624.5" y="884" font-size="10.5">鳩山由紀夫</text></g>
<g id="n-kunio"><text class="v" x="641" y="882" font-size="10">鳩山邦夫</text></g>
<g id="n-dan"><rect class="bx" x="663" y="793" width="13" height="44"/><text class="v" x="669.5" y="798" font-size="10">団琢磨</text></g>
<g id="n-kan"><text class="v" x="669" y="883" font-size="9.5">石橋寛</text></g>
<g id="n-miyazawa"><rect class="pk" x="691" y="843" width="15" height="47"/><text class="v" x="698.5" y="845" font-size="10.5">宮沢喜一</text></g>
<g id="n-etsuko"><text class="v" x="685" y="892" font-size="9.5">郷悦子</text></g>

<g id="legend">
<rect x="7" y="955" width="10" height="9" fill="#f2961e"/><text x="19" y="964" font-size="11">薩摩藩</text>
<rect x="7" y="969" width="10" height="9" fill="#1ea81e"/><text x="19" y="978" font-size="11">長州藩</text>
<rect x="7" y="983" width="10" height="9" fill="#22a6ee"/><text x="19" y="992" font-size="11">土佐藩</text>
<rect x="566" y="980" width="32" height="13" fill="#f6b8cb"/><text x="603" y="993" font-size="14">：内閣総理大臣</text>
</g>
<g id="title">
<rect x="138" y="959" width="413" height="36" fill="#f8ea2e"/>
<text x="143" y="989" font-size="30.5">総理大臣の藩閥・世襲・閨閥</text>
</g>
</svg>
